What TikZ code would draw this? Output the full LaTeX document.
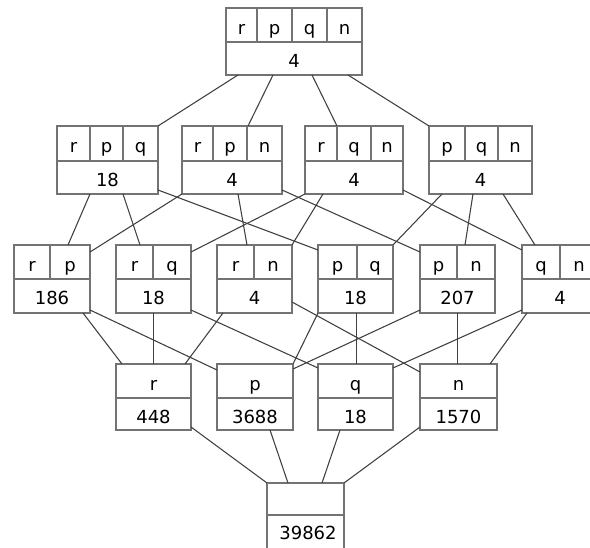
\documentclass[tikz,border=0pt]{standalone}
\usepackage{fontspec}
\setmainfont{DejaVu Sans}
\usetikzlibrary{calc}
\tikzset{
  boxline/.style={draw=black!55, line width=1.2pt},
  lbox/.style={boxline, rectangle, inner sep=0pt, outer sep=0pt},
  vartxt/.style={anchor=base, inner sep=0pt, font=\fontsize{13.5}{15}\selectfont},
  numtxt/.style={anchor=base, inner sep=0pt, font=\fontsize{13.5}{15}\selectfont},
  edge/.style={draw=black!75, line width=0.8pt},
}
\newcommand\lbox[7]{%
  \node[lbox, minimum width={(#3-#2)*0.75pt}, minimum height={(#6-#4)*0.75pt}] (#1) at ({(#2+#3)/2},{(#4+#6)/2}) {};
  \draw[boxline] (#2,#5) -- (#3,#5);
  \node[numtxt] (#1-num) at ({(#2+#3)/2},#5+25.5) {#7};
}
\newcommand\lcell[4]{\node[vartxt] (#1) at (#2,#3+27) {#4};}
\newcommand\vdiv[3]{\draw[boxline] (#1,#2) -- (#1,#3);}
\begin{document}
\begin{tikzpicture}[x=0.75pt,y=-0.75pt]
\useasboundingbox (0,0) rectangle (590,548);
\fill[white] (0,0) rectangle (590,548);
\clip (0,0) rectangle (590,548);
% ---- boxes ----
\lbox{top}{226}{362}{8}{42}{75}{4}
\vdiv{257}{8}{42}\vdiv{292}{8}{42}\vdiv{327}{8}{42}
\lcell{top-r}{241.5}{8}{r}\lcell{top-p}{274.5}{8}{p}\lcell{top-q}{309.5}{8}{q}\lcell{top-n}{344.5}{8}{n}
% level 2
\lbox{rpq}{57}{158}{126}{161}{194}{18}
\vdiv{90}{126}{161}\vdiv{123}{126}{161}
\lcell{rpq-r}{73.5}{126}{r}\lcell{rpq-p}{106.5}{126}{p}\lcell{rpq-q}{140.5}{126}{q}
\lbox{rpn}{182}{282}{126}{161}{194}{4}
\vdiv{213}{126}{161}\vdiv{247}{126}{161}
\lcell{rpn-r}{197.5}{126}{r}\lcell{rpn-p}{230}{126}{p}\lcell{rpn-n}{264.5}{126}{n}
\lbox{rqn}{305}{403}{126}{161}{194}{4}
\vdiv{337}{126}{161}\vdiv{371}{126}{161}
\lcell{rqn-r}{321}{126}{r}\lcell{rqn-q}{354}{126}{q}\lcell{rqn-n}{387}{126}{n}
\lbox{pqn}{429}{532}{126}{161}{194}{4}
\vdiv{465}{126}{161}\vdiv{498}{126}{161}
\lcell{pqn-p}{447}{126}{p}\lcell{pqn-q}{481.5}{126}{q}\lcell{pqn-n}{515}{126}{n}
% level 3
\lbox{rp}{14}{90}{245}{279}{313}{186}
\vdiv{50}{245}{279}
\lcell{rp-r}{32}{245}{r}\lcell{rp-p}{70}{245}{p}
\lbox{rq}{116}{191}{245}{279}{313}{18}
\vdiv{153}{245}{279}
\lcell{rq-r}{134.5}{245}{r}\lcell{rq-q}{172}{245}{q}
\lbox{rn}{217}{292}{245}{279}{313}{4}
\vdiv{254}{245}{279}
\lcell{rn-r}{235.5}{245}{r}\lcell{rn-n}{273}{245}{n}
\lbox{pq}{318}{393}{245}{279}{313}{18}
\vdiv{357}{245}{279}
\lcell{pq-p}{337.5}{245}{p}\lcell{pq-q}{375}{245}{q}
\lbox{pn}{420}{495}{245}{279}{313}{207}
\vdiv{457}{245}{279}
\lcell{pn-p}{438.5}{245}{p}\lcell{pn-n}{476}{245}{n}
\lbox{qn}{522}{598}{245}{279}{313}{4}
\vdiv{560}{245}{279}
\lcell{qn-q}{541}{245}{q}\lcell{qn-n}{579}{245}{n}
% level 4
\lbox{r}{116}{191}{364}{398}{430}{448}
\lcell{r-r}{153.5}{364}{r}
\lbox{p}{217}{293}{364}{398}{430}{3688}
\lcell{p-p}{255}{364}{p}
\lbox{q}{318}{393}{364}{398}{430}{18}
\lcell{q-q}{355.5}{364}{q}
\lbox{n}{420}{497}{364}{398}{430}{1570}
\lcell{n-n}{458.5}{364}{n}
% bottom
\node[lbox, minimum width={77*0.75pt}, minimum height={69*0.75pt}] (bot) at (305.5,517.5) {};
\draw[boxline] (267,515) -- (344,515);
\node[numtxt] (bot-num) at (308,540) {39862};
% ---- connectors ----
\draw[edge] ($(top.south west)+(12,0)$) -- (rpq.north east);
\draw[edge] ($(top.south west)+(47,0)$) -- ($(rpn.north west)+(66,0)$);
\draw[edge] ($(top.south west)+(86,0)$) -- ($(rqn.north west)+(32,0)$);
\draw[edge] ($(top.south west)+(122,0)$) -- (pqn.north west);
% level 2 -> 3
\draw[edge] ($(rpq.south west)+(33,0)$) -- ($(rp.north west)+(54,0)$);
\draw[edge] ($(rpq.south west)+(66,0)$) -- ($(rq.north west)+(24,0)$);
\draw[edge] ($(rpq.south east)+(0,-4)$) -- ($(pq.north west)+(0,5)$);
\draw[edge] (rpn.south west) -- ($(rp.north east)+(0,7)$);
\draw[edge] ($(rpn.south west)+(56,0)$) -- ($(rn.north west)+(30,0)$);
\draw[edge] ($(rpn.south east)+(0,-4)$) -- ($(pn.north west)+(0,7)$);
\draw[edge] (rqn.south west) -- ($(rq.north east)+(0,7)$);
\draw[edge] ($(rqn.south west)+(18,0)$) -- (rn.north east);
\draw[edge] ($(rqn.south east)+(0,-4)$) -- ($(qn.north west)+(0,5)$);
\draw[edge] ($(pqn.south west)+(13,0)$) -- (pq.north east);
\draw[edge] ($(pqn.south west)+(44,0)$) -- ($(pn.north west)+(45,0)$);
\draw[edge] ($(pqn.south west)+(74,0)$) -- ($(qn.north west)+(13,0)$);
% level 3 -> 4
\draw[edge] ($(rp.south west)+(69,0)$) -- ($(r.north west)+(6,0)$);
\draw[edge] ($(rp.south east)+(0,-3)$) -- ($(p.north west)+(0,6)$);
\draw[edge] ($(rq.south west)+(37.5,0)$) -- ($(r.north west)+(37.5,0)$);
\draw[edge] ($(rq.south east)+(0,-3)$) -- ($(q.north west)+(0,4)$);
\draw[edge] ($(rn.south west)+(6,0)$) -- ($(r.north east)+(-6,0)$);
\draw[edge] ($(rn.south east)+(0,-11)$) -- ($(n.north west)+(0,8)$);
\draw[edge] (pq.south west) -- (p.north east);
\draw[edge] ($(pq.south west)+(38.5,0)$) -- ($(q.north west)+(38.5,0)$);
\draw[edge] ($(pn.south west)+(0,-3)$) -- ($(p.north east)+(0,5)$);
\draw[edge] ($(pn.south west)+(37.5,0)$) -- ($(n.north west)+(37.5,0)$);
\draw[edge] ($(qn.south west)+(0,-3)$) -- ($(q.north east)+(0,4)$);
\draw[edge] ($(qn.south west)+(5,0)$) -- ($(n.north east)+(-7,0)$);
% level 4 -> bottom
\draw[edge] ($(r.south east)+(0,-3)$) -- (bot.north west);
\draw[edge] ($(p.south west)+(53,0)$) -- ($(bot.north west)+(21,0)$);
\draw[edge] ($(q.south west)+(22,0)$) -- ($(bot.north west)+(55,0)$);
\draw[edge] ($(n.south west)+(0,-3)$) -- (bot.north east);
\end{tikzpicture}
\end{document}
